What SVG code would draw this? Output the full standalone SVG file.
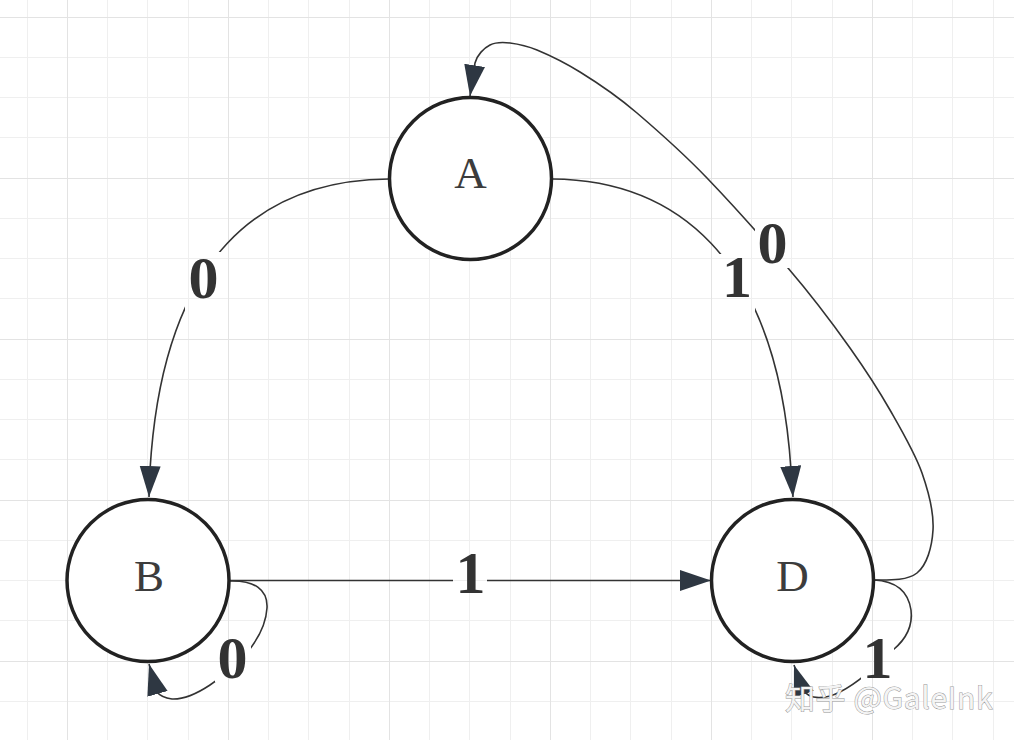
<svg xmlns="http://www.w3.org/2000/svg" width="1014" height="740" viewBox="0 0 1014 740">
<style>
.minor{stroke:#efefef;stroke-width:1;fill:none}
.major{stroke:#e3e3e3;stroke-width:1;fill:none}
.node circle{fill:#fff;stroke:#222;stroke-width:3.5}
.node text{font-family:"Liberation Serif",serif;font-size:45px;fill:#3c3c3c;text-anchor:middle}
.edge{fill:none;stroke:#333;stroke-width:1.6}
.elabel{font-family:"Liberation Serif",serif;font-size:60px;font-weight:bold;fill:#333;text-anchor:middle}
.wm{font-family:"Noto Sans CJK SC","Noto Sans",sans-serif;font-size:30px;letter-spacing:0.6px;fill:#f4f4f4;stroke:#9a9a9a;stroke-width:1;paint-order:stroke}
</style>
<defs>
<marker id="arr" markerUnits="userSpaceOnUse" markerWidth="32" markerHeight="22" refX="31" refY="10.5" orient="auto" viewBox="0 0 32 22">
<path d="M0,0 L31,10.5 L0,21 Z" fill="#2e3742"/>
</marker>
<mask id="gaps" maskUnits="userSpaceOnUse" x="0" y="0" width="1014" height="740">
<rect x="0" y="0" width="1014" height="740" fill="#fff"/>
<rect x="185" y="252" width="37" height="62" fill="#000"/>
<rect x="718" y="254" width="37" height="60" fill="#000"/>
<rect x="755" y="216" width="36" height="52" fill="#000"/>
<rect x="453" y="545" width="34" height="60" fill="#000"/>
<rect x="215" y="630" width="36" height="52" fill="#000"/>
<rect x="861" y="630" width="33" height="52" fill="#000"/>
</mask>
</defs>
<rect width="1014" height="740" fill="#fff"/>
<g id="grid">
<path class="minor" d="M27.5 0V740M107.5 0V740M147.5 0V740M188.5 0V740M268.5 0V740M308.5 0V740M349.5 0V740M429.5 0V740M469.5 0V740M510.5 0V740M590.5 0V740M630.5 0V740M671.5 0V740M751.5 0V740M791.5 0V740M832.5 0V740M912.5 0V740M952.5 0V740M993.5 0V740M0 57.5H1014M0 97.5H1014M0 137.5H1014M0 218.5H1014M0 258.5H1014M0 298.5H1014M0 379.5H1014M0 419.5H1014M0 459.5H1014M0 540.5H1014M0 580.5H1014M0 620.5H1014M0 701.5H1014"/>
<path class="major" d="M67.5 0V740M228.5 0V740M389.5 0V740M550.5 0V740M711.5 0V740M872.5 0V740M0 17.5H1014M0 178.5H1014M0 339.5H1014M0 500.5H1014M0 661.5H1014"/>
</g>
<g id="connectors" mask="url(#gaps)">
<path id="e-A-B" class="edge" marker-end="url(#arr)" d="M389 179 C263 180 163 253 150 470 L149 497"/>
<path id="e-A-D" class="edge" marker-end="url(#arr)" d="M552 179 C672 180 777 253 791 470 L793 497"/>
<path id="e-B-D" class="edge" marker-end="url(#arr)" d="M229 580.5 L711 580.5"/>
<path id="e-D-A" class="edge" marker-end="url(#arr)" d="M874 580 C888 580 907 581 917 573 C927 565 932 547 933 530 C934 513 929 493 922 473 C915 453 902 431 890 410 C878 389 867 372 850 348 C833 324 812 296 788 268 C764 240 732 204 707 178 C682 152 658 131 637 113 C616 95 597 82.5 580 72 C563 61.5 549 55 537 50 C525 45 518 44 510 43 C502 42 496 42 490 45 C484 48 477 55 475 63 L470 96"/>
<path id="e-B-B" class="edge" marker-end="url(#arr)" d="M229 581 C255 580 268 590 267 608 C266 625 258 640 245 655 C225 676 195 700 172 699 C165 698 160 696 157 692 L149 664"/>
<path id="e-D-D" class="edge" marker-end="url(#arr)" d="M874 580 C895 581 908 590 911 610 C913 626 905 640 893 650 C880 662 860 682 840 692 C826 699 810 701 802 689 L794 665"/>
</g>
<g id="edge-labels">
<text class="elabel" x="203.5" y="298">0</text>
<text class="elabel" x="737" y="297">1</text>
<text class="elabel" x="772.5" y="263">0</text>
<text class="elabel" x="470.5" y="593">1</text>
<text class="elabel" x="232.5" y="678">0</text>
<text class="elabel" x="877.5" y="678">1</text>
</g>
<g id="node-A" class="node"><circle cx="470.5" cy="178.5" r="81"/><text x="470.5" y="188">A</text></g>
<g id="node-B" class="node"><circle cx="148" cy="580.5" r="81"/><text x="149" y="591">B</text></g>
<g id="node-D" class="node"><circle cx="792.5" cy="580.5" r="81"/><text x="792.5" y="591">D</text></g>
<text class="wm" x="785" y="709">知乎 @GaleInk</text>
</svg>
